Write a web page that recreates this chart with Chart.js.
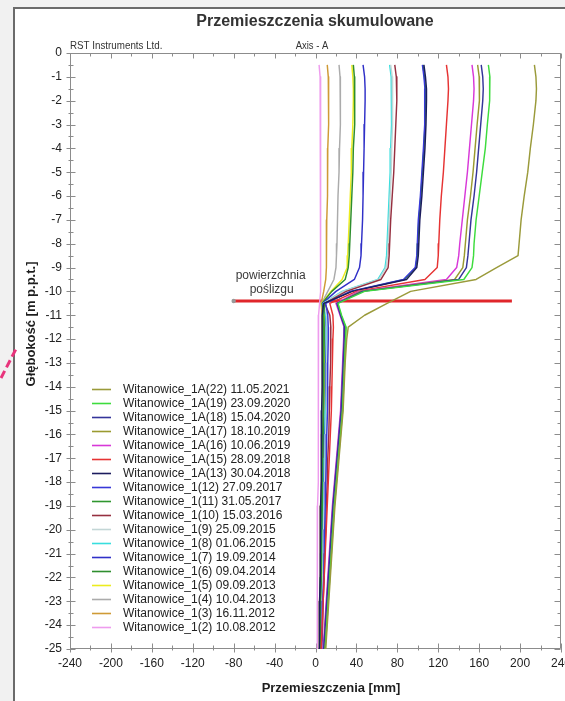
<!DOCTYPE html>
<html>
<head>
<meta charset="utf-8">
<script src="https://cdn.jsdelivr.net/npm/chart.js@4.4.1/dist/chart.umd.min.js"></script>
<style>
  html, body { margin: 0; padding: 0; width: 565px; height: 701px; overflow: hidden; background: #f1f1f1; }
  #frame { position: absolute; left: 13px; top: 7px; width: 620px; height: 720px; background: #fff;
           border-left: 2px solid #6b6b6b; border-top: 2px solid #6b6b6b; }
  #mark { position: absolute; left: 0; top: 0; }
  #c { position: absolute; left: 0; top: 0; }
</style>
</head>
<body>
<div id="frame"></div>
<svg id="mark" width="565" height="701"><line x1="1" y1="378" x2="17" y2="347" stroke="#e8347c" stroke-width="3" stroke-dasharray="8 4"/></svg>
<canvas id="c" width="565" height="701"></canvas>
<script>
const FONT = '"Liberation Sans", Arial, Helvetica, sans-serif';

// Measurement depths [m]
const DEPTHS = [-0.5, -1, -1.5, -2, -3, -4, -5, -6, -7, -8, -8.5, -9, -9.5, -10, -10.5, -11, -11.5, -12,
                -13, -14, -15, -16, -17, -18, -19, -20, -21, -22, -23, -24, -25];

// Series names (legend order)
const LABELS = [
  'Witanowice_1A(22) 11.05.2021',
  'Witanowice_1A(19) 23.09.2020',
  'Witanowice_1A(18) 15.04.2020',
  'Witanowice_1A(17) 18.10.2019',
  'Witanowice_1A(16) 10.06.2019',
  'Witanowice_1A(15) 28.09.2018',
  'Witanowice_1A(13) 30.04.2018',
  'Witanowice_1(12) 27.09.2017',
  'Witanowice_1(11) 31.05.2017',
  'Witanowice_1(10) 15.03.2016',
  'Witanowice_1(9) 25.09.2015',
  'Witanowice_1(8) 01.06.2015',
  'Witanowice_1(7) 19.09.2014',
  'Witanowice_1(6) 09.04.2014',
  'Witanowice_1(5) 09.09.2013',
  'Witanowice_1(4) 10.04.2013',
  'Witanowice_1(3) 16.11.2012',
  'Witanowice_1(2) 10.08.2012'
];

// Cumulative displacement [mm] at each depth
const W1A22 = [214, 215.5, 216, 215.5, 213, 210, 207.5, 204, 201, 199, 198, 177, 157, 93, 70, 48, 32, 30.5, 29, 28, 27, 25, 23, 21, 19, 17.5, 16, 14.5, 13, 11.5, 10];
const W1A19 = [169, 170.5, 170.5, 170, 168, 166, 163, 160, 157, 155, 154.5, 153, 145, 48, 22, 25.5, 30, 29.5, 28.5, 27.5, 26.5, 24.5, 22.5, 20.5, 18.5, 17, 15.5, 14, 12.5, 11, 9.5];
const W1A18 = [162, 163.5, 164, 163.5, 161.5, 159.5, 157.5, 155, 152, 150, 149, 147.5, 140, 46, 21, 24.5, 28.5, 28, 27, 26, 25, 23, 21, 19, 17, 15.5, 14, 12.5, 11, 9.5, 8];
const W1A17 = [158.5, 160, 160.5, 160, 158, 156, 154, 151.5, 148.5, 146.5, 145.5, 144, 136, 44, 21.5, 25, 29.5, 29, 28, 27, 26, 24, 22, 20, 18, 16.5, 15, 13.5, 12, 10.5, 9];
const W1A16 = [153, 154.5, 155, 154.5, 152.5, 150.5, 148.5, 146, 143.5, 141, 140, 138, 128, 42, 20, 24, 28, 27.5, 26.5, 25.5, 24.5, 22.5, 20.5, 18.5, 16.5, 15, 13.5, 12, 10.5, 9, 7.5];
const W1A15 = [128, 129.5, 130, 129.5, 128, 126.5, 125, 123, 121.5, 120.5, 120, 119, 107, 40, 14, 17, 17.5, 17, 16.5, 16, 15.5, 14.5, 13.5, 12.5, 11.5, 10.5, 9.5, 8.5, 7.5, 6.5, 5.5];
const W1A13 = [106, 107.5, 108.5, 108.5, 108, 107, 105.5, 104, 102, 101, 100.5, 99, 89, 36, 8, 6.5, 6.5, 6.5, 6.5, 6.5, 6, 6, 5.5, 5.5, 5, 5, 4.5, 4.5, 4, 4, 3.5];
const W1_12 = [104.5, 106, 107, 107, 106.5, 105.5, 104, 102.5, 100.5, 99.5, 99, 97.5, 86, 34, 10, 12, 12.5, 12.5, 12, 12, 11.5, 11, 10.5, 10, 9.5, 9, 8.5, 8, 7, 6.5, 6];
const W1_11 = [105, 106.5, 107.5, 107.5, 107, 106, 104.5, 103, 101, 100, 99.5, 98, 87, 35, 9, 8, 8, 8, 8, 7.5, 7.5, 7, 7, 6.5, 6.5, 6, 6, 5.5, 5, 5, 4.5];
const W1_10 = [77.5, 79, 79.5, 79.5, 78.5, 77.5, 76.5, 75, 73.5, 72.5, 72, 71, 64, 30, 9, 14, 15, 15, 14.5, 14, 13.5, 13, 12, 11.5, 10.5, 10, 9, 8.5, 7.5, 7, 6];
const W1_9  = [73.5, 75, 75.5, 75.5, 75, 74.5, 74, 73, 72, 71, 70.5, 69, 62, 27, 8, 11, 11.5, 11.5, 11, 11, 10.5, 10, 9.5, 9, 8.5, 8, 7.5, 7, 6, 5.5, 5];
const W1_8  = [72.5, 74, 74.5, 74.5, 74, 73.5, 73, 72, 71, 70, 69.5, 68, 61, 26, 7.5, 10, 11, 11, 10.5, 10.5, 10, 9.5, 9, 8.5, 8, 7.5, 7, 6.5, 6, 5.5, 5];
const W1_7  = [46.5, 48, 48.5, 48.5, 48, 47.5, 47, 46.5, 46, 45, 44.5, 43, 38, 20, 7, 10, 10.5, 10.5, 10, 10, 9.5, 9, 8.5, 8, 7.5, 7, 6.5, 6, 5.5, 5, 4.5];
const W1_6  = [37, 38, 38.5, 38.5, 38, 37, 36.5, 35.5, 34.5, 33.5, 33, 32, 29, 16, 6.5, 8, 8.5, 8.5, 8, 8, 7.5, 7.5, 7, 6.5, 6, 6, 5.5, 5, 4.5, 4.5, 4];
const W1_5  = [35.5, 36.5, 37, 37, 36.5, 35.5, 35, 34, 33, 32, 31.5, 31, 26, 15, 6, 8.5, 9, 9, 8.5, 8.5, 8, 8, 7.5, 7, 6.5, 6.5, 6, 5.5, 5, 5, 4.5];
const W1_4  = [23, 24, 24.5, 24.5, 24, 23.5, 23, 22, 21.5, 21, 20.5, 20, 18, 12, 6, 7.5, 8, 8, 7.5, 7.5, 7, 7, 6.5, 6, 6, 5.5, 5, 5, 4.5, 4.5, 4];
const W1_3  = [11.5, 12.5, 13, 13, 12.5, 12, 12, 11.5, 11, 11, 10.5, 10.5, 10, 8, 5.5, 6.5, 7, 7, 7, 6.5, 6.5, 6, 6, 5.5, 5, 5, 4.5, 4.5, 4, 4, 3.5];
const W1_2  = [3.5, 4.5, 5, 5, 5, 5, 5, 5, 5, 5, 5, 5, 5, 5, 4, 3, 3, 3, 3, 3, 2.5, 2.5, 2.5, 2.5, 2, 2, 2, 2, 1.5, 1.5, 1.5];

const SERIES = [W1A22, W1A19, W1A18, W1A17, W1A16, W1A15, W1A13, W1_12, W1_11, W1_10,
                W1_9, W1_8, W1_7, W1_6, W1_5, W1_4, W1_3, W1_2];

const COLORS = ['#9a9a3a', '#3ddc3d', '#34349a', '#9a9a30', '#d838d8', '#e63333', '#1c1c5e', '#3838d8',
                '#2f962f', '#963040', '#c3d6d6', '#38dede', '#3030c8', '#2e8e2e', '#ecec1e', '#ababab',
                '#cf9a35', '#ee9cee'];

// Slip surface
const SLIP_DEPTH = -10.4;
const SLIP_FROM = -80;
const SLIP_TO = 192;
const SLIP_TEXT = ['powierzchnia', 'poślizgu'];

// Axes
const X_MIN = -240, X_MAX = 240, X_STEP = 40, X_MINOR = 20;
const Y_MIN = -25, Y_MAX = 0, Y_STEP = 1, Y_MINOR = 0.5;

const datasets = SERIES.map((vals, k) => ({
  label: LABELS[k],
  data: DEPTHS.map((d, i) => ({ x: vals[i], y: d })),
  borderColor: COLORS[k],
  backgroundColor: COLORS[k],
  borderWidth: 1.45,
  pointRadius: 0,
  showLine: true,
  tension: 0,
  order: 0
}));
datasets.push({
  label: 'slip',
  data: [{ x: SLIP_FROM, y: SLIP_DEPTH }, { x: SLIP_TO, y: SLIP_DEPTH }],
  borderColor: '#e0262b',
  borderWidth: 3,
  pointRadius: [2.2, 0],
  pointBackgroundColor: '#9a9a9a',
  pointBorderWidth: 0,
  showLine: true,
  order: 1
});

// Frame of the plot with crossing ticks on all four sides
const frameTicks = {
  id: 'frameTicks',
  beforeDatasetsDraw(chart) {
    const { ctx, chartArea: ca, scales: { x: xs, y: ys } } = chart;
    const L = Math.round(ca.left) + 0.5, R = Math.round(ca.right) - 0.5;
    const T = Math.round(ca.top) + 0.5, B = Math.round(ca.bottom) - 0.5;
    ctx.save();
    ctx.strokeStyle = '#8c8c8c';
    ctx.lineWidth = 1;
    ctx.beginPath();
    ctx.rect(L, T, R - L, B - T);
    const ny = Math.round((Y_MAX - Y_MIN) / Y_MINOR);
    for (let k = 0; k <= ny; k++) {
      const v = Y_MIN + k * Y_MINOR;
      const p = Math.round(ys.getPixelForValue(v)) + 0.5;
      const major = Math.abs(v / Y_STEP - Math.round(v / Y_STEP)) < 1e-9;
      ctx.moveTo(L - (major ? 4 : 2), p); ctx.lineTo(L + (major ? 5 : 3), p);
      ctx.moveTo(R - (major ? 6 : 3), p); ctx.lineTo(R, p);
    }
    const nx = Math.round((X_MAX - X_MIN) / X_MINOR);
    for (let k = 0; k <= nx; k++) {
      const v = X_MIN + k * X_MINOR;
      const p = Math.round(xs.getPixelForValue(v)) + 0.5;
      const major = Math.abs(v / X_STEP - Math.round(v / X_STEP)) < 1e-9;
      ctx.moveTo(p, B - (major ? 5 : 3)); ctx.lineTo(p, B + (major ? 4 : 2));
      ctx.moveTo(p, T); ctx.lineTo(p, T + (major ? 5 : 3));
    }
    ctx.stroke();
    ctx.restore();
  }
};

// Titles, captions, slip surface label and the legend
const texts = {
  id: 'texts',
  afterDraw(chart) {
    const { ctx, chartArea: ca, scales: { x: xs, y: ys } } = chart;
    ctx.save();
    ctx.textBaseline = 'middle';

    ctx.fillStyle = '#333';
    ctx.textAlign = 'center';
    ctx.font = 'bold 16px ' + FONT;
    ctx.fillText('Przemieszczenia skumulowane', 315, 22);

    ctx.font = '11px ' + FONT;
    ctx.save();
    ctx.translate(ca.left, 46);
    ctx.scale(0.89, 1);
    ctx.textAlign = 'left';
    ctx.fillText('RST Instruments Ltd.', 0, 0);
    ctx.restore();
    ctx.save();
    ctx.translate(312, 46);
    ctx.scale(0.86, 1);
    ctx.fillText('Axis - A', 0, 0);
    ctx.restore();

    ctx.fillStyle = '#1e1e1e';
    ctx.font = 'bold 13px ' + FONT;
    ctx.fillText('Przemieszczenia [mm]', 331, 688);
    ctx.save();
    ctx.translate(31, 324);
    ctx.rotate(-Math.PI / 2);
    ctx.fillText('Głębokość [m p.p.t.]', 0, 0);
    ctx.restore();

    // slip surface caption
    const sx = xs.getPixelForValue(SLIP_FROM) + 37;
    const sy = ys.getPixelForValue(SLIP_DEPTH);
    ctx.fillStyle = '#3a3a3a';
    ctx.font = '12px ' + FONT;
    ctx.fillText(SLIP_TEXT[0], sx, sy - 25);
    ctx.fillText(SLIP_TEXT[1], sx + 1, sy - 11);

    // legend
    ctx.textAlign = 'left';
    ctx.fillStyle = '#222';
    const lx = 92, ty = 389, dy = 14;
    LABELS.forEach((lab, k) => {
      const y = ty + k * dy;
      ctx.strokeStyle = COLORS[k];
      ctx.lineWidth = 1.6;
      ctx.beginPath();
      ctx.moveTo(lx, y + 0.5);
      ctx.lineTo(lx + 19, y + 0.5);
      ctx.stroke();
      ctx.fillText(lab, lx + 31, y + 1);
    });
    ctx.restore();
  }
};

new Chart(document.getElementById('c'), {
  type: 'scatter',
  data: { datasets },
  options: {
    responsive: false,
    animation: false,
    devicePixelRatio: 1,
    layout: { padding: { top: 53, right: 4, left: 0, bottom: 0 } },
    plugins: { legend: { display: false }, tooltip: { enabled: false } },
    elements: { line: { borderJoinStyle: 'round' } },
    scales: {
      x: {
        type: 'linear', min: X_MIN, max: X_MAX,
        grid: { display: false, drawTicks: false },
        border: { display: false },
        ticks: { stepSize: X_STEP, padding: 7, color: '#222', font: { family: FONT, size: 12 }, maxRotation: 0, autoSkip: false },
        afterFit(s) { s.height = 52; s.paddingLeft = 0; s.paddingRight = 0; }
      },
      y: {
        type: 'linear', min: Y_MIN, max: Y_MAX,
        grid: { display: false, drawTicks: false },
        border: { display: false },
        ticks: { stepSize: Y_STEP, padding: 8, color: '#222', font: { family: FONT, size: 12 }, autoSkip: false },
        afterFit(s) { s.width = 70; s.paddingTop = 0; s.paddingBottom = 0; }
      }
    }
  },
  plugins: [frameTicks, texts]
});
</script>
</body>
</html>
